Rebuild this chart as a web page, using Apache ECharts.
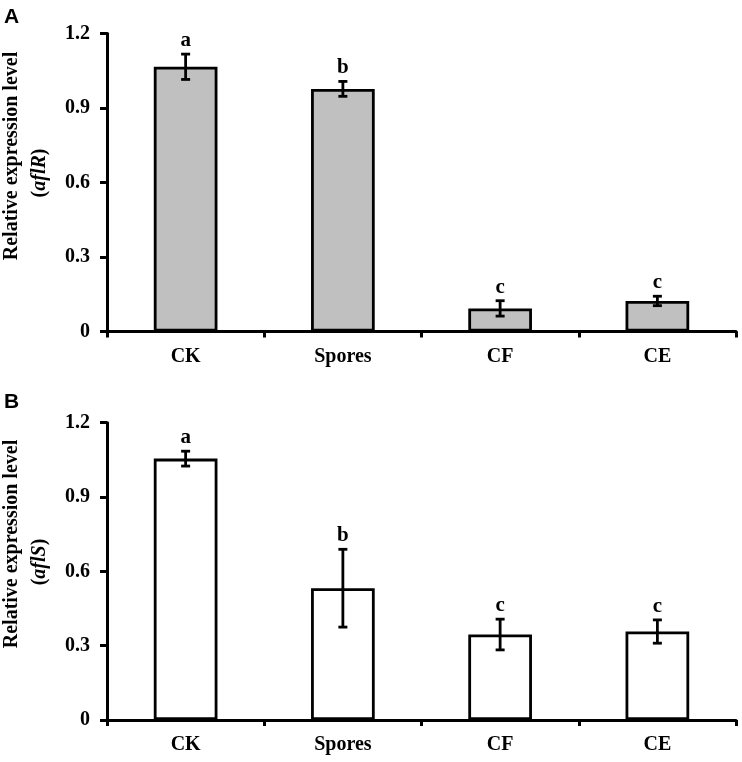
<!DOCTYPE html>
<html>
<head>
<meta charset="utf-8">
<script src="https://cdn.jsdelivr.net/npm/echarts@6/dist/echarts.min.js"></script>
<style>html,body{margin:0;padding:0;background:#fff;}#c{width:742px;height:762px;}</style>
</head>
<body>
<div id="c"></div>
<script>
const categories = ['CK', 'Spores', 'CF', 'CE'];
const aflRValues = [1.066, 0.977, 0.093, 0.123];
const aflRErrors = [0.051, 0.030, 0.031, 0.019];
const aflRLetters = ['a', 'b', 'c', 'c'];
const aflSValues = [1.055, 0.532, 0.345, 0.357];
const aflSErrors = [0.030, 0.157, 0.062, 0.047];
const aflSLetters = ['a', 'b', 'c', 'c'];
const yTicks = [0, 0.3, 0.6, 0.9, 1.2];

const SERIF = '"Liberation Serif", "Times New Roman", serif';
const chart = echarts.init(document.getElementById('c'), null, {renderer: 'canvas'});

function errData(vals, errs, letters) {
  return vals.map((v, i) => [i, v, errs[i], letters[i]]);
}
function renderErr(params, api) {
  const x = api.value(0), v = api.value(1), e = api.value(2);
  const letter = api.value(3);
  const top = api.coord([x, v + e]);
  const bot = api.coord([x, v - e]);
  const hw = 4.5;
  const style = {stroke: '#000', lineWidth: 2.8};
  return {
    type: 'group',
    children: [
      {type: 'line', shape: {x1: top[0], y1: top[1], x2: bot[0], y2: bot[1]}, style},
      {type: 'line', shape: {x1: top[0] - hw, y1: top[1], x2: top[0] + hw, y2: top[1]}, style},
      {type: 'line', shape: {x1: bot[0] - hw, y1: bot[1], x2: bot[0] + hw, y2: bot[1]}, style},
      {type: 'text', x: top[0], y: top[1] - 3, style: {text: letter, fill: '#000', font: 'bold 21px ' + SERIF, textAlign: 'center', textVerticalAlign: 'bottom'}}
    ]
  };
}

function xAx(gi) {
  return {
    type: 'category', gridIndex: gi, data: categories, boundaryGap: true,
    axisLine: {lineStyle: {color: '#000', width: 3}},
    axisTick: {show: true, length: 6, lineStyle: {color: '#000', width: 3}},
    axisLabel: {color: '#000', fontFamily: SERIF, fontWeight: 'bold', fontSize: 20, margin: 15}
  };
}
function yAx(gi) {
  return {
    type: 'value', gridIndex: gi, min: yTicks[0], max: yTicks[yTicks.length - 1], interval: 0.3,
    splitLine: {show: false},
    axisLine: {show: true, lineStyle: {color: '#000', width: 3}},
    axisTick: {show: true, length: 7, lineStyle: {color: '#000', width: 3}},
    axisLabel: {color: '#000', fontFamily: SERIF, fontWeight: 'bold', fontSize: 20, margin: 17,
      formatter: v => v === 0 ? '0' : v.toFixed(1)}
  };
}

const option = {
  animation: false,
  backgroundColor: '#fff',
  grid: [
    {left: 107, right: 6, top: 33.5, height: 298},
    {left: 107, right: 6, top: 422.7, height: 297.3}
  ],
  xAxis: [xAx(0), xAx(1)],
  yAxis: [yAx(0), yAx(1)],
  graphic: [
    {type: 'text', left: 4, top: 7, style: {text: 'A', font: 'bold 21px "Liberation Sans", Arial, sans-serif', fill: '#000'}},
    {type: 'text', left: 4, top: 392, style: {text: 'B', font: 'bold 21px "Liberation Sans", Arial, sans-serif', fill: '#000'}},
    {type: 'text', x: 12, y: 156, rotation: Math.PI / 2, style: {text: 'Relative expression level', font: 'bold 20px ' + SERIF, fill: '#000', textAlign: 'center', textVerticalAlign: 'middle'}},
    {type: 'text', x: 40, y: 173, rotation: Math.PI / 2, style: {text: '{n|(}{i|aflR}{n|)}', fill: '#000', textAlign: 'center', textVerticalAlign: 'middle',
      rich: {n: {font: 'bold 20px ' + SERIF, fill: '#000'}, i: {font: 'italic bold 20px ' + SERIF, fill: '#000'}}}},
    {type: 'text', x: 12, y: 544, rotation: Math.PI / 2, style: {text: 'Relative expression level', font: 'bold 20px ' + SERIF, fill: '#000', textAlign: 'center', textVerticalAlign: 'middle'}},
    {type: 'text', x: 40, y: 562, rotation: Math.PI / 2, style: {text: '{n|(}{i|aflS}{n|)}', fill: '#000', textAlign: 'center', textVerticalAlign: 'middle',
      rich: {n: {font: 'bold 20px ' + SERIF, fill: '#000'}, i: {font: 'italic bold 20px ' + SERIF, fill: '#000'}}}}
  ],
  series: [
    {type: 'bar', xAxisIndex: 0, yAxisIndex: 0, data: aflRValues, barWidth: '40.5%',
      itemStyle: {color: '#c0c0c0', borderColor: '#000', borderWidth: 2.8}},
    {type: 'custom', xAxisIndex: 0, yAxisIndex: 0, data: errData(aflRValues, aflRErrors, aflRLetters), renderItem: renderErr, z: 10},
    {type: 'bar', xAxisIndex: 1, yAxisIndex: 1, data: aflSValues, barWidth: '40.5%',
      itemStyle: {color: '#ffffff', borderColor: '#000', borderWidth: 2.8}},
    {type: 'custom', xAxisIndex: 1, yAxisIndex: 1, data: errData(aflSValues, aflSErrors, aflSLetters), renderItem: renderErr, z: 10}
  ]
};
chart.setOption(option);
</script>
</body>
</html>
